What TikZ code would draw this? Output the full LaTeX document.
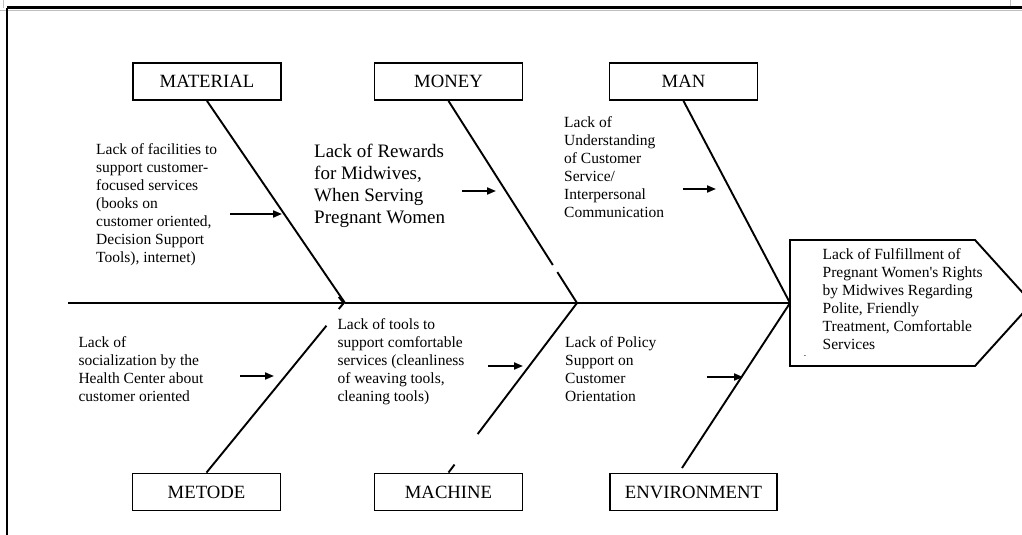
\documentclass[tikz,border=0pt]{standalone}
\usepackage{fontspec}
\setmainfont{Liberation Serif}[Ligatures=TeXOff]
\usetikzlibrary{arrows.meta,calc}
\begin{document}
\begin{tikzpicture}[x=1pt,y=-1pt,
  catbox/.style={draw,line width=1.9pt,minimum width=148pt,minimum height=37pt,inner sep=0pt,font=\fontsize{18.7}{22}\selectfont},
  cause/.style={anchor=north west,align=left,inner sep=0pt,font=\fontsize{15.5}{18}\selectfont},
  bone/.style={line width=1.9pt},
  cuearrow/.style={line width=1.9pt,-{Triangle[length=9pt,width=7pt]}},
  frame/.style={line width=3pt},
  guide/.style={line width=0.6pt,black!25}
]
\useasboundingbox (0,0) rectangle (1022,535);
\clip (0,0) rectangle (1022,535);
% page frame
\draw[guide] (3,0) -- (3,8);
\draw[guide] (1010,0) -- (1010,8);
\draw[guide] (0,10.5) -- (1022,10.5);
\draw[frame] (7,8) -- (1022,8);
\draw[line width=2.4pt] (7,8) -- (7,535);

% category boxes
\node[catbox] (material) at (207,81.5) {MATERIAL};
\node[catbox] (money) at (448.5,81.5) {MONEY};
\node[catbox] (man) at (683.5,81.5) {MAN};
\node[catbox] (metode) at (206.5,492) {METODE};
\node[catbox] (machine) at (448.5,492) {MACHINE};
\node[catbox,minimum width=167pt] (environment) at (693.5,492) {ENVIRONMENT};

% spine
\coordinate (sp) at (68,303);
\coordinate (j1) at (345,303);
\coordinate (j2) at (577,303);
\coordinate (j3) at (790,303);
\draw[bone,-{Straight Barb[length=5pt,width=12pt]}] (sp) -- (j1);
\draw[bone] (j1) -- (j3);

% head
\draw[line width=1.9pt] (790,240) -- (975,240) -- (1032,303) -- (975,366) -- (790,366) -- cycle;
\node[cause] (head) at (822.5,248.6) {Lack of Fulfillment of\\Pregnant Women's Rights\\by Midwives Regarding\\Polite, Friendly\\Treatment, Comfortable\\Services};
\node[inner sep=0pt,font=\fontsize{7}{8}\selectfont] (dash) at (805,357) {-};

% top bones
\draw[bone] (material.south) -- (j1);
\draw[bone] (money.south) -- ($(money.south)!0.812!(j2)$);
\draw[bone] ($(money.south)!0.847!(j2)$) -- (j2);
\draw[bone] (man.south) -- (j3);

% bottom bones
\draw[bone] (metode.north) -- ($(metode.north)!0.866!(j1)$);
\draw[bone] (j2) -- ($(j2)!0.773!(machine.north)$);
\draw[bone] ($(j2)!0.953!(machine.north)$) -- (machine.north);
\coordinate (e1) at (682,468);
\draw[bone] (j3) -- (e1);

% causes
\node[cause] (fac) at (96,143.3) {Lack of facilities to\\support customer-\\focused services\\(books on\\customer oriented,\\Decision Support\\Tools), internet)};
\node[cause,font=\fontsize{19}{22}\selectfont] (rew) at (314,143.7) {Lack of Rewards\\for Midwives,\\When Serving\\Pregnant Women};
\node[cause] (und) at (564,116.8) {Lack of\\Understanding\\of Customer\\Service/\\Interpersonal\\Communication};
\node[cause] (soc) at (78.3,336.6) {Lack of\\socialization by the\\Health Center about\\customer oriented};
\node[cause] (tools) at (337.3,318.6) {Lack of tools to\\support comfortable\\services (cleanliness\\of weaving tools,\\cleaning tools)};
\node[cause] (pol) at (565,336) {Lack of Policy\\Support on\\Customer\\Orientation};

% small arrows
\coordinate (a1s) at (230,214); \coordinate (a1e) at (282,214);
\coordinate (a2s) at (462,191); \coordinate (a2e) at (496,191);
\coordinate (a3s) at (683,189); \coordinate (a3e) at (716,189);
\coordinate (b1s) at (240,376); \coordinate (b1e) at (274,376);
\coordinate (b2s) at (488,366); \coordinate (b2e) at (523,366);
\coordinate (b3s) at (707,377); \coordinate (b3e) at (743,377);
\draw[cuearrow] (a1s) -- (a1e);
\draw[cuearrow] (a2s) -- (a2e);
\draw[cuearrow] (a3s) -- (a3e);
\draw[cuearrow] (b1s) -- (b1e);
\draw[cuearrow] (b2s) -- (b2e);
\draw[cuearrow] (b3s) -- (b3e);
\end{tikzpicture}
\end{document}
